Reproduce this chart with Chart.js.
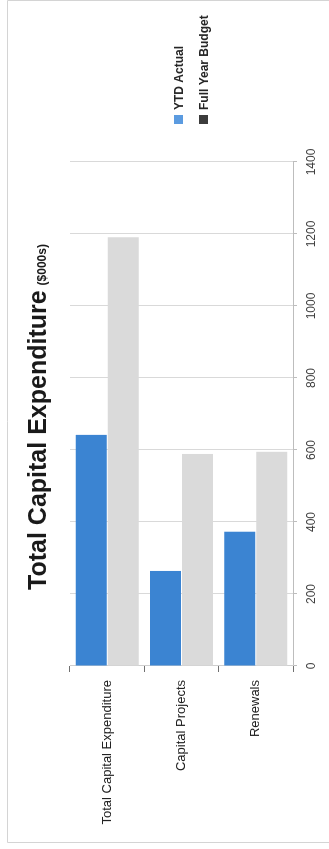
<!DOCTYPE html>
<html>
<head>
<meta charset="utf-8">
<title>Total Capital Expenditure</title>
<script src="https://cdn.jsdelivr.net/npm/chart.js@4/dist/chart.umd.min.js"></script>
<style>
  html, body { margin: 0; padding: 0; background: #fff; overflow: hidden; }
  #page { position: relative; width: 329px; height: 849px; }
  /* the chart is laid out landscape, then turned a quarter turn to the left */
  #frame {
    position: absolute; left: 0; top: 0;
    width: 849px; height: 329px;
    transform-origin: 0 0;
    transform: translateY(849px) rotate(-90deg);
  }
</style>
</head>
<body>
<div id="page">
  <div id="frame"><canvas id="capexChart" width="849" height="329"></canvas></div>
</div>
<script>
// $000s
const categories = ['Total Capital Expenditure', 'Capital Projects', 'Renewals'];
const ytdActual = [642, 264, 373];
const fullYearBudget = [1191, 589, 595];
const axisMax = 1400;
const axisStep = 200;

const fontFamily = '"Liberation Sans", Arial, sans-serif';
const actualBlue = '#3b84d2';
const budgetGrey = '#dadada';

// title, legend and outer frame are painted by hand
const decorations = {
    id: 'decorations',
    beforeDraw(chart) {
        const { ctx, width, height } = chart;
        ctx.save();
        ctx.fillStyle = '#fff';
        ctx.fillRect(0, 0, width, height);
        ctx.strokeStyle = '#d4d4d4';
        ctx.lineWidth = 1;
        ctx.beginPath();
        ctx.moveTo(6.5, height);
        ctx.lineTo(6.5, 7.5);
        ctx.lineTo(848.5, 7.5);
        ctx.lineTo(848.5, height);
        ctx.stroke();
        ctx.restore();
    },
    afterDraw(chart) {
        const { ctx, chartArea } = chart;
        ctx.save();

        // Title with smaller units suffix
        const mainText = 'Total Capital Expenditure';
        const unitText = '($000s)';
        const mainFont = 'bold 25px ' + fontFamily;
        const unitFont = 'bold 12px ' + fontFamily;
        ctx.font = mainFont;
        const w1 = ctx.measureText(mainText).width;
        ctx.font = unitFont;
        const w2 = ctx.measureText(unitText).width;
        const gap = 5;
        let x = (chartArea.left + chartArea.right) / 2 - 3 - (w1 + gap + w2) / 2;
        const baseline = 46;
        ctx.fillStyle = '#1a1a1a';
        ctx.textBaseline = 'alphabetic';
        ctx.textAlign = 'left';
        ctx.font = mainFont;
        ctx.fillText(mainText, x, baseline);
        ctx.font = unitFont;
        ctx.fillText(unitText, x + w1 + gap, baseline);

        // Legend on the right
        const legendColors = ['#5b9be0', '#3c3c3c'];
        const left = chartArea.right + 38;
        const midY = (chartArea.top + chartArea.bottom) / 2;
        ctx.font = 'bold 12px ' + fontFamily;
        ctx.textBaseline = 'middle';
        chart.data.datasets.forEach((ds, i) => {
            const cy = midY - 3 + i * 25;
            ctx.fillStyle = legendColors[i];
            ctx.fillRect(left, cy - 4.5, 9, 9);
            ctx.fillStyle = '#262626';
            ctx.fillText(ds.label, left + 14, cy + 1);
        });
        ctx.restore();
    }
};

const ctx = document.getElementById('capexChart').getContext('2d');
const capexChart = new Chart(ctx, {
    type: 'bar',
    data: {
        labels: categories,
        datasets: [{
            label: 'YTD Actual',
            data: ytdActual,
            backgroundColor: actualBlue,
            categoryPercentage: 0.86,
            barPercentage: 0.97
        }, {
            label: 'Full Year Budget',
            data: fullYearBudget,
            backgroundColor: budgetGrey,
            categoryPercentage: 0.86,
            barPercentage: 0.97
        }]
    },
    options: {
        indexAxis: 'y',
        responsive: false,
        animation: false,
        devicePixelRatio: 1,
        font: { family: fontFamily },
        layout: {
            padding: { top: 70, right: 162, bottom: 0, left: 0 }
        },
        plugins: {
            legend: { display: false },
            title: { display: false },
            tooltip: { enabled: false }
        },
        scales: {
            x: {
                min: 0,
                max: axisMax,
                ticks: {
                    stepSize: axisStep,
                    padding: 7,
                    color: '#404040',
                    font: { family: fontFamily, size: 12 },
                    callback: (value) => String(value)
                },
                grid: {
                    color: '#d9d9d9',
                    tickColor: '#bdbdbd',
                    tickLength: 4
                },
                border: { color: '#bdbdbd' },
                afterFit: (scale) => { scale.height = 36; }
            },
            y: {
                ticks: {
                    padding: 8,
                    color: '#222',
                    font: { family: fontFamily, size: 13 }
                },
                grid: {
                    offset: true,
                    drawOnChartArea: false,
                    tickColor: '#707070',
                    tickLength: 6
                },
                border: { color: '#cfcfcf' },
                afterFit: (scale) => { scale.width = 183; }
            }
        }
    },
    plugins: [decorations]
});
</script>
</body>
</html>
